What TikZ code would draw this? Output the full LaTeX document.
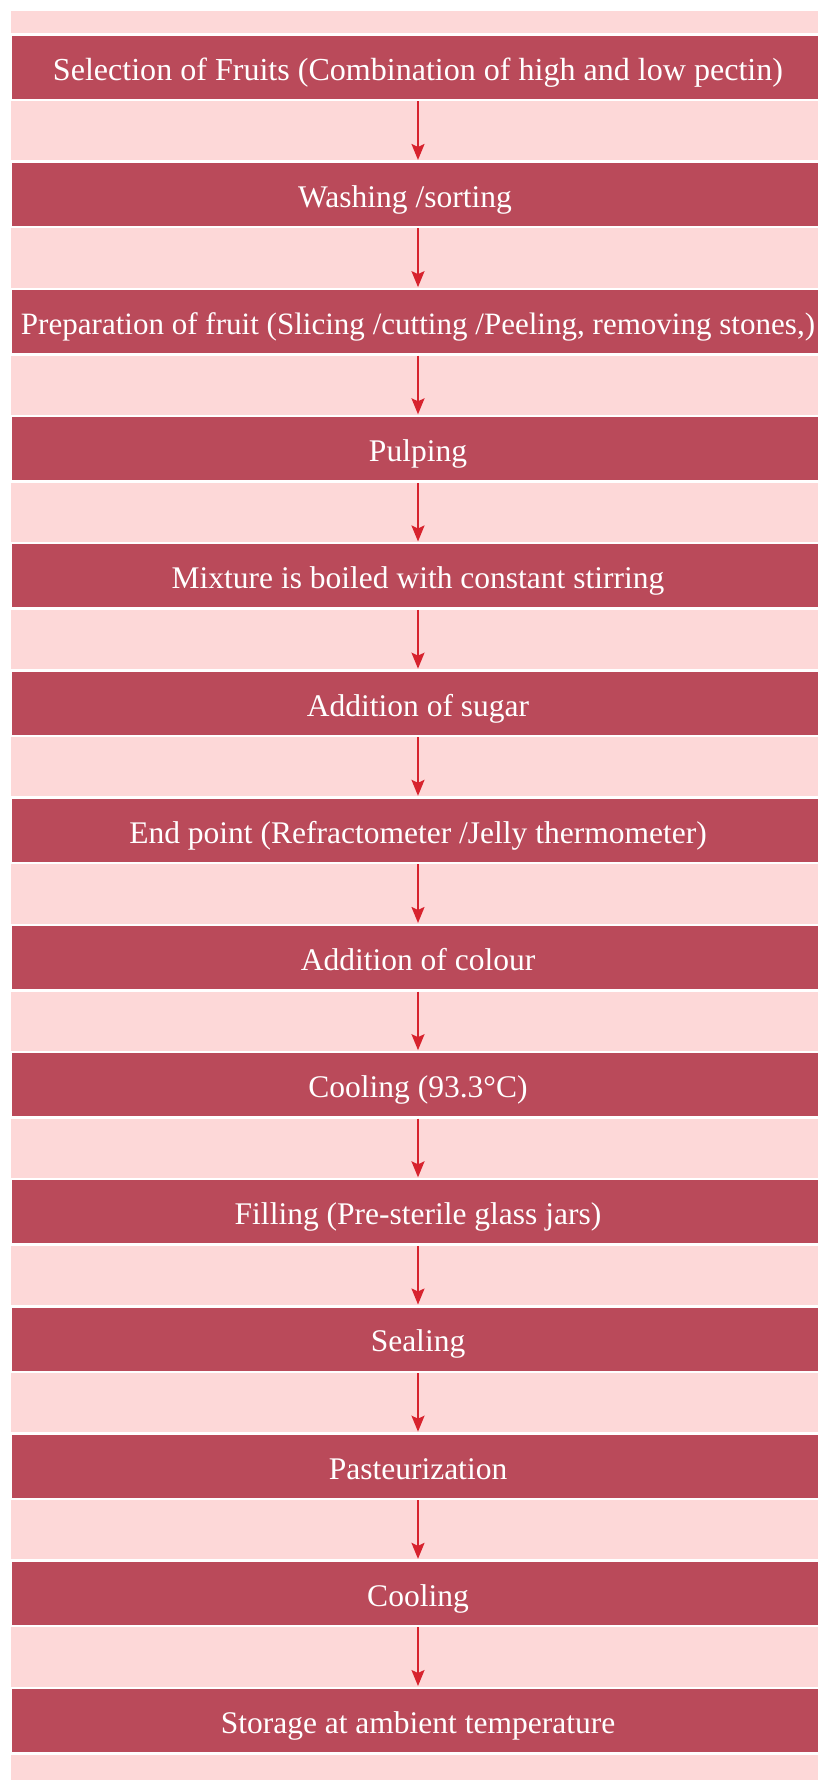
\documentclass[tikz,border=0pt]{standalone}
\usepackage{fontspec}
\setmainfont{Liberation Serif}
\usetikzlibrary{arrows.meta}
\definecolor{bandpink}{RGB}{253,216,216}
\definecolor{stepred}{RGB}{186,74,90}
\definecolor{arrred}{RGB}{215,35,46}
\tikzset{
  stepbox/.style={rectangle, fill=stepred, draw=white, line width=2.5pt,
    minimum width=814pt, minimum height=65.5pt, inner sep=0pt,
    text=white, font=\fontsize{31.5}{34}\selectfont,
    text height=28pt, text depth=2.2pt},
  arr/.style={draw=arrred, line width=2pt,
    -{Stealth[length=16pt,width=13pt,inset=3pt]}, shorten >=0.5pt}
}
\begin{document}
\begin{tikzpicture}[x=1pt,y=-1pt]
\useasboundingbox (0,0) rectangle (818,1780);
\fill[white] (0,0) rectangle (818,1780);
\fill[bandpink] (11,11) rectangle (830,1780);
\foreach \t [count=\i] in {
  {\resizebox{730pt}{!}{Selection of Fruits (Combination of high and low pectin)}},
  {\hspace*{-26pt}Washing /sorting},
  {\resizebox{794pt}{!}{Preparation of fruit (Slicing /cutting /Peeling, removing stones,)}},
  {Pulping},
  {Mixture is boiled with constant stirring},
  {Addition of sugar},
  {End point (Refractometer /Jelly thermometer)},
  {Addition of colour},
  {Cooling (93.3°C)},
  {Filling (Pre-sterile glass jars)},
  {Sealing},
  {Pasteurization},
  {Cooling},
  {Storage at ambient temperature}}
{
  \node[stepbox] (b\i) at (418, {67.3+127.17*(\i-1)}) {\t};
}
\foreach \i [evaluate=\i as \j using int(\i+1)] in {1,...,13}
  \draw[arr] (b\i.south) -- (b\j.north);
\end{tikzpicture}
\end{document}
